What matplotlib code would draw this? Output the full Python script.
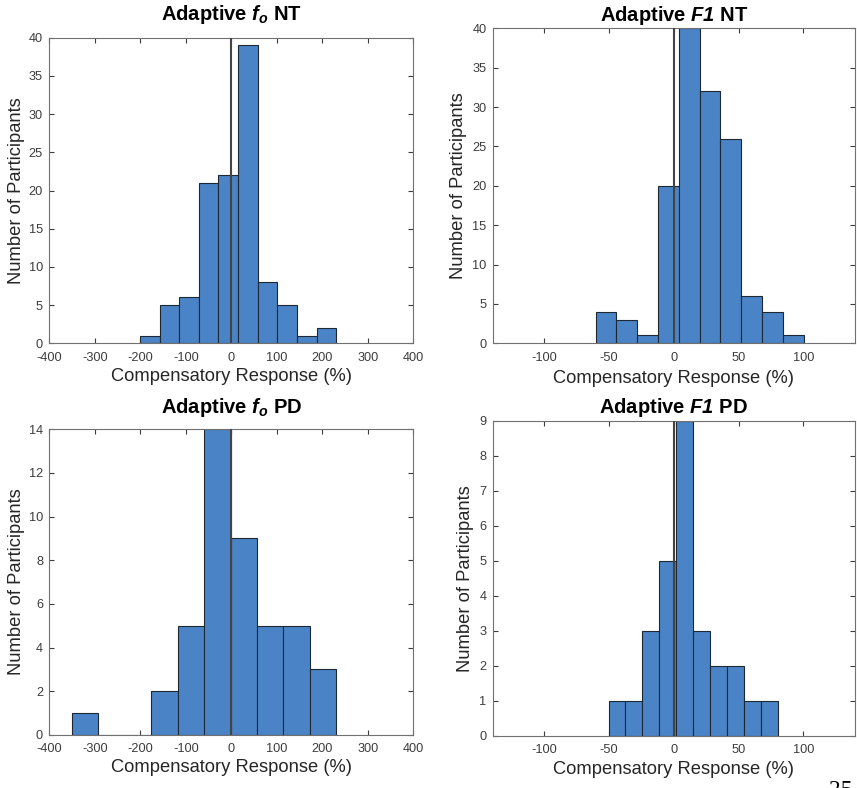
import numpy as np
import matplotlib
matplotlib.use("Agg")
import matplotlib.pyplot as plt

plt.rcParams["font.family"] = ["Liberation Sans", "DejaVu Sans"]
plt.rcParams["axes.unicode_minus"] = False
plt.rcParams["mathtext.fontset"] = "custom"
plt.rcParams["mathtext.it"] = "Liberation Sans:bold:italic"
plt.rcParams["mathtext.rm"] = "Liberation Sans:bold:italic"

# bin edges (%) and counts
fo_nt_edges = [-200.7, -157.6, -114.5, -71.3, -28.2, 15.0, 58.1, 101.2, 144.4, 187.5, 230.7]
fo_nt_counts = [1, 5, 6, 21, 22, 39, 8, 5, 1, 2]

f1_nt_edges = [-60.5, -44.4, -28.3, -12.3, 3.8, 19.9, 36.0, 52.1, 68.2, 84.2, 100.3]
f1_nt_counts = [4, 3, 1, 20, 40, 32, 26, 6, 4, 1]

fo_pd_edges = [-350.2, -292.1, -234.0, -175.9, -117.8, -59.7, -1.6, 56.5, 114.6, 172.7, 230.8]
fo_pd_counts = [1, 0, 0, 2, 5, 14, 9, 5, 5, 3]

f1_pd_edges = [-50.5, -37.4, -24.3, -11.2, 1.9, 15.0, 28.1, 41.2, 54.3, 67.4, 80.5]
f1_pd_counts = [1, 1, 3, 5, 9, 3, 2, 2, 1, 1]

fo_xticks = [-400, -300, -200, -100, 0, 100, 200, 300, 400]
f1_xticks = [-100, -50, 0, 50, 100]

BAR = "#4a84c6"
AX = "#3c3c3c"


def draw(ax, title, edges, counts, xlim, xticks, ymax, ystep, title_off, ylab_x, xlab_y):
    edges = np.asarray(edges)
    ax.bar(edges[:-1], counts, width=np.diff(edges), align="edge", color=BAR,
           edgecolor="#1e2833", linewidth=0.8, zorder=2)
    ax.axvline(0, color="#444444", lw=1.5, zorder=3)
    ax.set_xlim(xlim)
    ax.set_ylim(0, ymax)
    ax.set_xticks(xticks)
    ax.set_yticks(np.arange(0, ymax + 1, ystep))
    ax.tick_params(direction="in", top=True, right=True, length=3.5, width=0.8,
                   colors=AX, labelsize=9.2)
    ax.tick_params(axis="x", pad=6)
    ax.tick_params(axis="y", pad=4.5)
    for s in ax.spines.values():
        s.set_color("#707070")
        s.set_linewidth(0.8)
    ax.set_xlabel("Compensatory Response (%)", fontsize=13.2, color="#262626")
    ax.set_ylabel("Number of Participants", fontsize=13.2, color="#262626")
    ax.yaxis.set_label_coords(ylab_x, 0.5)
    ax.xaxis.set_label_coords(0.5, xlab_y)
    ax.annotate(title, xy=(0.5, 1), xycoords="axes fraction", xytext=(0, title_off),
                textcoords="offset points", ha="center", va="baseline",
                fontsize=14.5, fontweight="bold")


fig = plt.figure(figsize=(8.57, 7.88), dpi=100)
ax1 = fig.add_axes([0.0575, 0.5643, 0.4247, 0.3878])
ax2 = fig.add_axes([0.5749, 0.5643, 0.4228, 0.3997])
ax3 = fig.add_axes([0.0575, 0.0673, 0.4247, 0.3880])
ax4 = fig.add_axes([0.5749, 0.0663, 0.4228, 0.3997])

draw(ax1, r"Adaptive $f_o$ NT", fo_nt_edges, fo_nt_counts, (-400, 400), fo_xticks,
     40, 5, 12.7, -0.066, -0.082)
draw(ax2, r"Adaptive $F1$ NT", f1_nt_edges, f1_nt_counts, (-140, 140), f1_xticks,
     40, 5, 5.5, -0.070, -0.085)
draw(ax3, r"Adaptive $f_o$ PD", fo_pd_edges, fo_pd_counts, (-400, 400), fo_xticks,
     14, 2, 12.0, -0.066, -0.079)
draw(ax4, r"Adaptive $F1$ PD", f1_pd_edges, f1_pd_counts, (-140, 140), f1_xticks,
     9, 1, 5.8, -0.052, -0.079)

# page number cut by the bottom edge
fig.text(829 / 857, 8 / 788, "25", fontsize=17, family="Liberation Serif", va="top", ha="left")

fig.savefig("out.png", dpi=100)
